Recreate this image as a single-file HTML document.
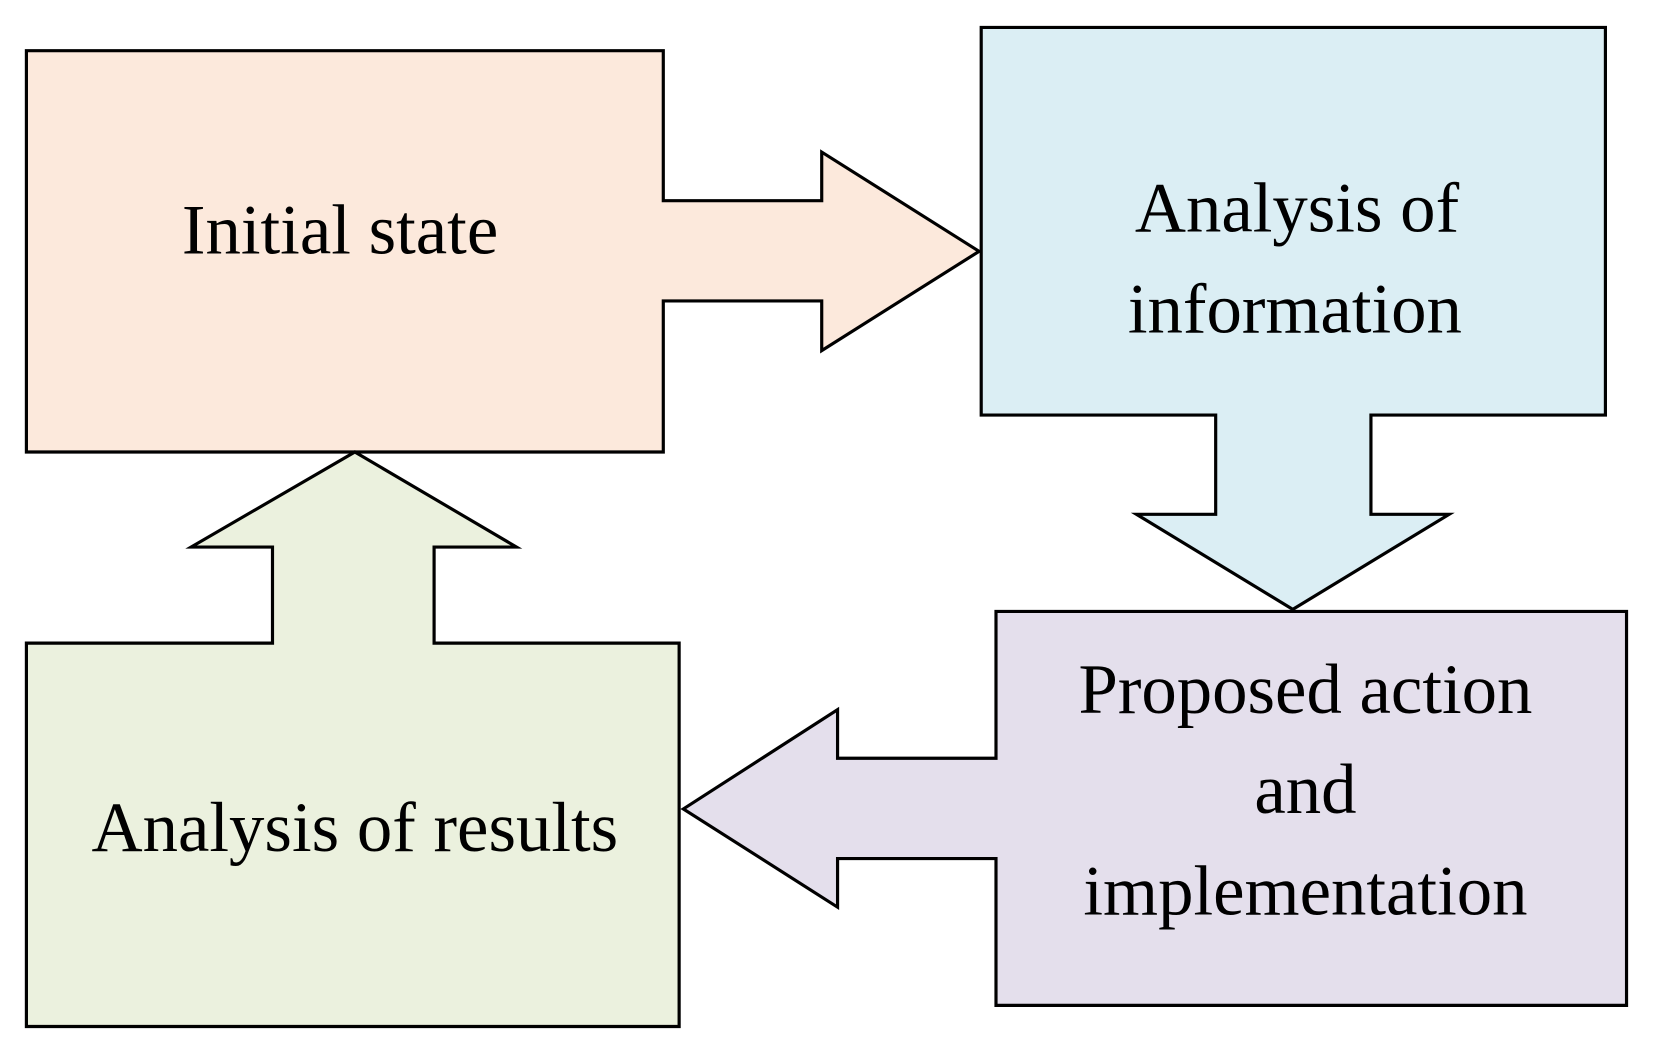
<!DOCTYPE html>
<html><head><style>html,body{margin:0;padding:0;background:#fff;}svg{display:block}</style></head>
<body>
<svg width="1654" height="1055" viewBox="0 0 1566 999" preserveAspectRatio="none" xmlns="http://www.w3.org/2000/svg">
<g stroke="#000" stroke-width="3" stroke-linejoin="miter">
<polygon fill="#fce9dc" points="25,48 628,48 628,190 778,190 778,144 927,238 778,332 778,285 628,285 628,428 25,428"/>
<polygon fill="#dbeef4" points="929,26 1520,26 1520,393 1298,393 1298,487 1372,487 1224,577 1076,487 1151,487 1151,393 929,393"/>
<polygon fill="#e4dfec" points="943,579 1540,579 1540,952 943,952 943,813 793,813 793,859 647,766 793,672 793,718 943,718"/>
<polygon fill="#ebf1de" points="25,609 258,609 258,518 181,518 336,428 489,518 411,518 411,609 643,609 643,972 25,972"/>
</g>
<g font-family="'Liberation Serif', serif" font-size="67" text-anchor="middle" fill="#000">
<text x="322" y="240">Initial state</text>
<text x="1228" y="219">Analysis of</text>
<text x="1226" y="315">information</text>
<text x="1236" y="675">Proposed action</text>
<text x="1236" y="770">and</text>
<text x="1236" y="866">implementation</text>
<text x="336" y="806">Analysis of results</text>
</g>
</svg>
</body></html>
